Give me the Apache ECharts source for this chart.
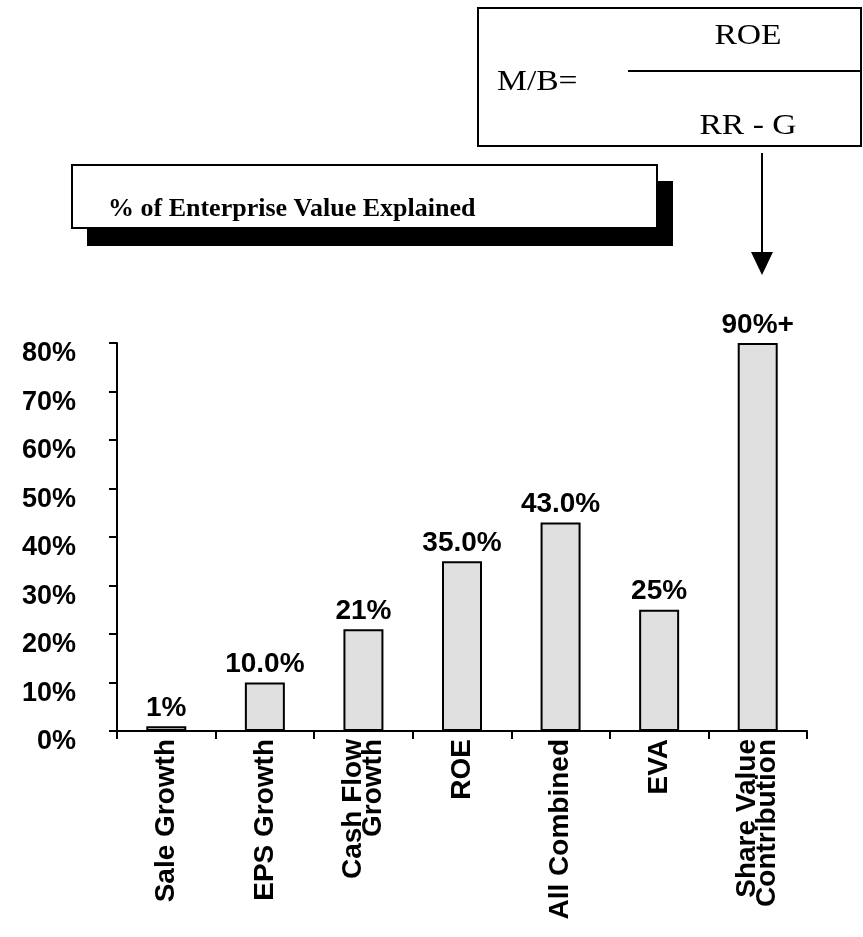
<!DOCTYPE html>
<html>
<head>
<meta charset="utf-8">
<script src="https://cdn.jsdelivr.net/npm/echarts@6/dist/echarts.min.js"></script>
<style>
    html, body { margin: 0; padding: 0; background: #fff; }
    #main { width: 863px; height: 937px; }
</style>
</head>
<body>
<div id="main"></div>
<script>
// categories (x axis)
var categories = ['Sale Growth', 'EPS Growth', 'Cash Flow\nGrowth', 'ROE', 'All Combined', 'EVA', 'Share Value\nContribution'];
// bar heights in %
var values = [1, 10, 21, 35, 43, 25, 80];
// text printed above each bar
var valueLabels = ['1%', '10.0%', '21%', '35.0%', '43.0%', '25%', '90%+'];
// y axis range
var yMin = 0, yMax = 80, yStep = 10;

var sans = "'Liberation Sans', Arial, sans-serif";
var serif = "'Liberation Serif', 'Times New Roman', serif";

var chart = echarts.init(document.getElementById('main'));

var option = {
    animation: false,
    backgroundColor: '#fff',
    grid: {
        left: 117,
        right: 56,
        top: 343,
        bottom: 206
    },
    xAxis: {
        type: 'category',
        data: categories,
        axisLine: { lineStyle: { color: '#000', width: 2 } },
        axisTick: { show: true, length: 8, interval: 0, lineStyle: { color: '#000', width: 2 } },
        axisLabel: {
            interval: 0,
            rotate: 90,
            margin: 8,
            color: '#000',
            fontFamily: sans,
            fontWeight: 'bold',
            fontSize: 28,
            lineHeight: 20
        }
    },
    yAxis: {
        type: 'value',
        min: yMin,
        max: yMax,
        interval: yStep,
        splitLine: { show: false },
        axisLine: { show: true, lineStyle: { color: '#000', width: 2 } },
        axisTick: { show: true, length: 8, lineStyle: { color: '#000', width: 2 } },
        axisLabel: {
            formatter: '{value}%',
            margin: 41,
            color: '#000',
            fontFamily: sans,
            fontWeight: 'bold',
            fontSize: 27,
            verticalAlign: 'top',
            lineHeight: 22
        }
    },
    series: [{
        type: 'bar',
        data: values,
        barWidth: 40,
        itemStyle: {
            color: '#e0e0e0',
            borderColor: '#000',
            borderWidth: 2
        },
        label: {
            show: true,
            position: 'top',
            distance: 4,
            color: '#000',
            fontFamily: sans,
            fontWeight: 'bold',
            fontSize: 28,
            formatter: function (p) {
                return valueLabels[p.dataIndex];
            }
        }
    }],
    graphic: [
        // formula box
        {
            type: 'rect',
            shape: { x: 478, y: 8, width: 383, height: 138 },
            style: { fill: '#fff', stroke: '#000', lineWidth: 2 }
        },
        {
            type: 'line',
            shape: { x1: 628, y1: 71, x2: 861, y2: 71 },
            style: { stroke: '#000', lineWidth: 2 }
        },
        {
            type: 'text', x: 748, y: 36, scaleX: 1.12, originX: 0,
            style: { text: 'ROE', font: '30px ' + serif, fill: '#000', textAlign: 'center', textVerticalAlign: 'middle' }
        },
        {
            type: 'text', x: 497, y: 82, scaleX: 1.12, originX: 0,
            style: { text: 'M/B=', font: '30px ' + serif, fill: '#000', textAlign: 'left', textVerticalAlign: 'middle' }
        },
        {
            type: 'text', x: 748, y: 126, scaleX: 1.12, originX: 0,
            style: { text: 'RR - G', font: '30px ' + serif, fill: '#000', textAlign: 'center', textVerticalAlign: 'middle' }
        },
        // arrow
        {
            type: 'line',
            shape: { x1: 762, y1: 153, x2: 762, y2: 256 },
            style: { stroke: '#000', lineWidth: 2 }
        },
        {
            type: 'polygon',
            shape: { points: [[751, 252], [773, 252], [762, 275]] },
            style: { fill: '#000' }
        },
        // title box with shadow
        {
            type: 'rect',
            shape: { x: 87, y: 181, width: 586, height: 65 },
            style: { fill: '#000' }
        },
        {
            type: 'rect',
            shape: { x: 72, y: 165, width: 585, height: 63 },
            style: { fill: '#fff', stroke: '#000', lineWidth: 2 }
        },
        {
            type: 'text', x: 108, y: 209,
            style: { text: '% of Enterprise Value Explained', font: 'bold 26px ' + serif, fill: '#000', textAlign: 'left', textVerticalAlign: 'middle' }
        }
    ]
};

if (option && typeof option === 'object') {
    chart.setOption(option, true);
}
</script>
</body>
</html>
